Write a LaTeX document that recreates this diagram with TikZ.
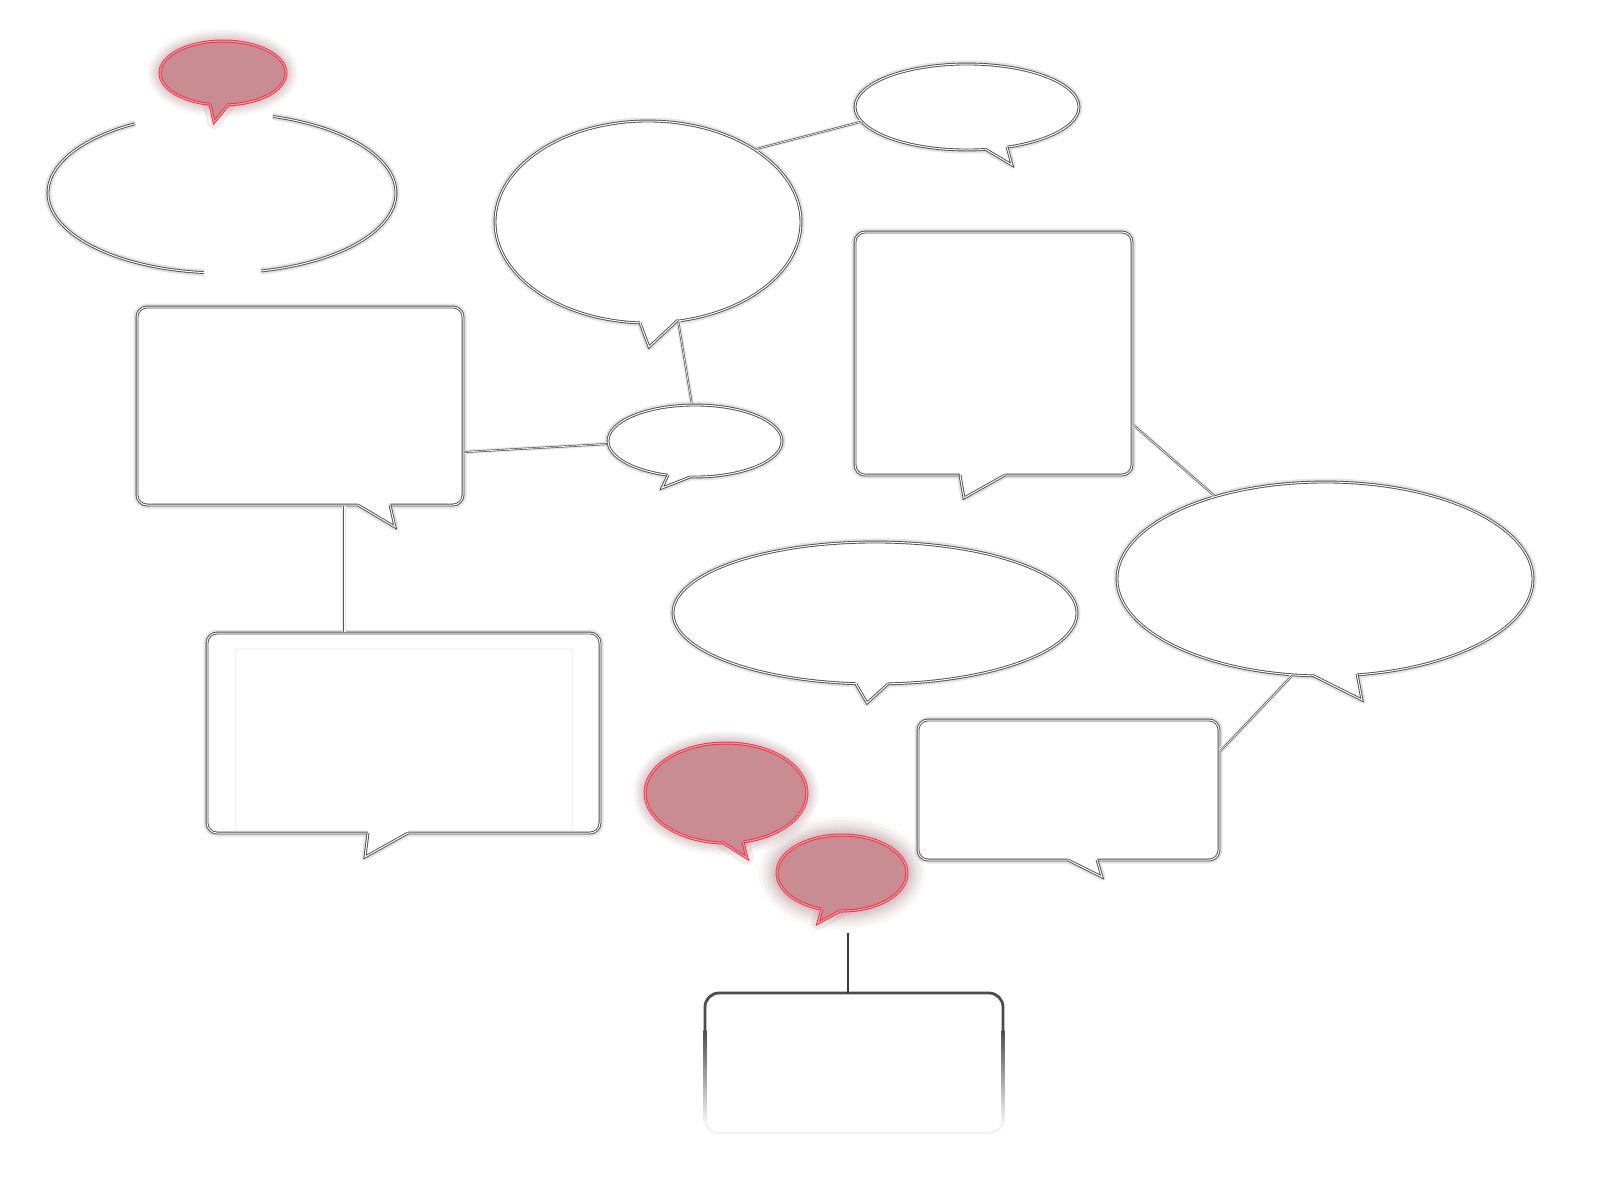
\documentclass[tikz,border=0pt]{standalone}
\usetikzlibrary{calc,shapes.geometric}
\definecolor{redfill}{RGB}{200,140,146}
\definecolor{redline}{RGB}{240,50,66}
\definecolor{redinner}{RGB}{255,165,175}
\definecolor{glowc}{RGB}{150,100,106}
\tikzset{
  gglow/.style={draw=black!11, line width=7pt, line join=round},
  gline/.style={draw=black!70, line width=2.8pt, line join=miter, postaction={draw=white, line width=1pt}},
  gbody/.style={gline, fill=white, inner sep=0pt, preaction={gglow}},
  gbox/.style={gbody, rectangle, rounded corners=10pt},
  gell/.style={gbody, ellipse},
  rline/.style={draw=redline, line width=3pt, line join=miter, postaction={draw=redinner, line width=1pt}},
  rbody/.style={ellipse, inner sep=0pt, fill=redfill, rline,
    preaction={draw=glowc, line width=24pt, draw opacity=0.05},
    preaction={draw=glowc, line width=20pt, draw opacity=0.05},
    preaction={draw=glowc, line width=16pt, draw opacity=0.06},
    preaction={draw=glowc, line width=12pt, draw opacity=0.07},
    preaction={draw=glowc, line width=8pt, draw opacity=0.08}},
  rbodybig/.style={rbody,
    preaction={draw=glowc, line width=36pt, draw opacity=0.05},
    preaction={draw=glowc, line width=30pt, draw opacity=0.05}},
  rtglow/.style={draw=glowc, line width=14pt, draw opacity=0.12, line join=round},
  cline/.style={draw=black!65, line width=2pt, preaction={draw=black!9, line width=4.5pt}, postaction={draw=white, line width=0.6pt}},
  dline/.style={draw=black!78, line width=1.7pt},
}
\newcommand\gtail[3]{%
  \fill[white] ($#1+(0,-7)$) -- #1 -- #2 -- #3 -- ($#3+(0,-7)$) -- cycle;
  \draw[gline] #1 -- #2 -- #3;}
\newcommand\rtail[3]{%
  \fill[redfill] ($#1+(0,-7)$) -- #1 -- #2 -- #3 -- ($#3+(0,-7)$) -- cycle;
  \draw[rline] #1 -- #2 -- #3;}
\begin{document}
\begin{tikzpicture}[x=1pt,y=-1pt]
\fill[white] (0,0) rectangle (1600,1200);
\useasboundingbox (0,0) rectangle (1600,1200);

% tail glows
\draw[gglow] (640,323) -- (649,347) -- (678,320);
\draw[gglow] (985,149) -- (1012,165) -- (1007,147);
\draw[gglow] (668,475) -- (662,488) -- (690,477);
\draw[gglow] (1312,675) -- (1362,700) -- (1357,674);
\draw[gglow] (856,684) -- (867,703) -- (888,684);
\draw[gglow] (358,505) -- (395,527) -- (390,505);
\draw[gglow] (368,833) -- (365,857) -- (408,833);
\draw[gglow] (960,475) -- (964,498) -- (1005,475);
\draw[gglow] (1068,860) -- (1102,877) -- (1097,860);
\draw[rtglow] (210,104) -- (214,122) -- (229,104) -- cycle;
\draw[rtglow] (722,842) -- (747,858) -- (743,842) -- cycle;
\draw[rtglow] (822,909) -- (818,923) -- (840,911) -- cycle;

% bodies
\node[ellipse, inner sep=0pt, minimum width=348pt, minimum height=160pt] (E1) at (222,193) {};
\node[gell, minimum width=306pt, minimum height=202pt] (E3) at (648,222) {};
\node[gell, minimum width=224pt, minimum height=86pt] (E4) at (967,107) {};
\node[gell, minimum width=174pt, minimum height=72pt] (E5) at (695,441) {};
\node[gell, minimum width=416pt, minimum height=194pt] (E6) at (1325,579) {};
\node[gell, minimum width=404pt, minimum height=142pt] (E7) at (875,613) {};
\node[gbox, minimum width=326pt, minimum height=198pt] (R1) at (300,406) {};
\node[gbox, minimum width=393pt, minimum height=200pt] (R2) at (403.5,733) {};
\node[gbox, minimum width=277pt, minimum height=243pt] (R3) at (993.5,353.5) {};
\node[gbox, minimum width=301pt, minimum height=140pt] (R4) at (1068.5,790) {};
\node[rectangle, inner sep=0pt, minimum width=298pt, minimum height=140pt] (R5) at (854,1063) {};
\node[rbody, minimum width=126pt, minimum height=64pt] (RB1) at (223,73) {};
\node[rbody, minimum width=162pt, minimum height=100pt] (RB2) at (726,793) {};
\node[rbodybig, minimum width=130pt, minimum height=76pt] (RB3) at (842,873) {};

% open ellipse E1
\draw[gline, preaction={gglow}] ([shift={(120:174pt and 80pt)}]E1.center) arc[start angle=120, end angle=264, x radius=174pt, y radius=80pt];
\draw[gline, preaction={gglow}] ([shift={(283:174pt and 80pt)}]E1.center) arc[start angle=283, end angle=433, x radius=174pt, y radius=80pt];

% faint inner frame of R2
\draw[black!5, line width=1pt] (235,648) rectangle (572,830);

% fading box R5
\draw[black!5, line width=2.4pt, rounded corners=14pt] (705,1100) -- (705,1133) -- (1003,1133) -- (1003,1100);
\shade[top color=black!70, bottom color=black!4] (703.6,1030) rectangle (706.4,1122);
\shade[top color=black!70, bottom color=black!4] (1001.6,1030) rectangle (1004.4,1122);
\draw[black!70, line width=2.8pt, rounded corners=14pt] (705,1031) -- (705,993) -- (1003,993) -- (1003,1031);

% connectors
\coordinate (e3tail) at (678,320);
\draw[cline] (E3.34) -- (E4.188);
\draw[cline] (e3tail) -- (E5.95);
\draw[cline] ([yshift=-46pt]R1.east) -- (E5.182);
\draw[cline] ([xshift=44pt]R1.south) -- ([xshift=44pt]R1.south |- R2.north);
\draw[cline] ([yshift=-71.5pt]R3.east) -- (E6.143);
\draw[cline] (E6.251) -- ([yshift=39pt]R4.east);
\draw[dline, shorten <=20pt] ([xshift=6pt]RB3.south) -- ([xshift=6pt]RB3.south |- R5.north);

% tails
\gtail{(640,323)}{(649,347)}{(678,320)}
\gtail{(985,149)}{(1012,165)}{(1007,147)}
\gtail{(668,475)}{(662,488)}{(690,477)}
\gtail{(1312,675)}{(1362,700)}{(1357,674)}
\gtail{(856,684)}{(867,703)}{(888,684)}
\gtail{(358,505)}{(395,527)}{(390,505)}
\gtail{(368,833)}{(365,857)}{(408,833)}
\gtail{(960,475)}{(964,498)}{(1005,475)}
\gtail{(1068,860)}{(1102,877)}{(1097,860)}
\rtail{(210,104)}{(214,122)}{(229,104)}
\rtail{(722,842)}{(747,858)}{(743,842)}
\rtail{(822,909)}{(818,923)}{(840,911)}
\end{tikzpicture}
\end{document}
